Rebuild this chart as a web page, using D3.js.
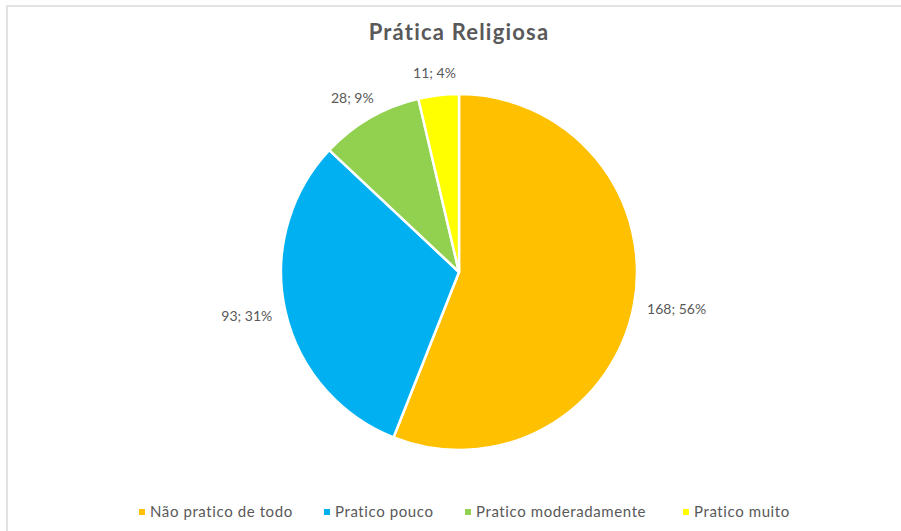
<!DOCTYPE html>
<html>
<head>
<meta charset="utf-8">
<script src="https://cdn.jsdelivr.net/npm/d3@7"></script>
<style>
  html, body { margin: 0; padding: 0; background: #fff; }
  svg { display: block; font-family: "Lato", "Open Sans", sans-serif; }
</style>
</head>
<body>
<div id="chart"></div>
<script>
// chart data
const categories = ['Não pratico de todo', 'Pratico pouco', 'Pratico moderadamente', 'Pratico muito'];
const counts = [168, 93, 28, 11];
const percentLabels = ['56%', '31%', '9%', '4%'];
const colors = ['#FFC000', '#00B0F0', '#92D050', '#FFFF00'];

const width = 901, height = 531;
const cx = 459, cy = 272, radius = 178;

const svg = d3.select('#chart').append('svg')
    .attr('width', width)
    .attr('height', height);

// chart frame (right and bottom edges fall outside the picture)
svg.append('rect')
    .attr('x', 7).attr('y', 6)
    .attr('width', width + 20).attr('height', height + 20)
    .attr('fill', '#fff')
    .attr('stroke', '#d9d9d9')
    .attr('stroke-width', 1.5);

svg.append('text')
    .attr('x', cx).attr('y', 40)
    .attr('text-anchor', 'middle')
    .attr('fill', '#595959')
    .style('font-size', '22px')
    .style('font-weight', 'bold')
    .style('letter-spacing', '1.2px')
    .text('Prática Religiosa');

const data = categories.map((c, i) => ({ name: c, value: counts[i], pct: percentLabels[i], color: colors[i] }));

const pie = d3.pie().sort(null).value(d => d.value);
const arc = d3.arc().innerRadius(0).outerRadius(radius);

const g = svg.append('g').attr('transform', `translate(${cx},${cy})`);
const arcs = pie(data);

g.selectAll('path')
    .data(arcs)
    .enter()
    .append('path')
    .attr('d', arc)
    .attr('fill', d => d.data.color)
    .attr('stroke', '#fff')
    .attr('stroke-width', 2.5)
    .attr('stroke-linejoin', 'round');

// outside-end labels: anchor point just beyond the rim, text box pushed outward
const labelGap = 14;
g.selectAll('text.label')
    .data(arcs)
    .enter()
    .append('text')
    .attr('class', 'label')
    .attr('text-anchor', 'middle')
    .attr('dy', '0.35em')
    .attr('fill', '#595959')
    .style('font-size', '14px')
    .text(d => `${d.data.value}; ${d.data.pct}`)
    .each(function (d) {
        const a = (d.startAngle + d.endAngle) / 2;
        const box = this.getBBox();
        const r = radius + labelGap;
        const x = Math.sin(a) * r + Math.sin(a) * box.width / 2;
        const y = -Math.cos(a) * r - Math.cos(a) * box.height / 2;
        d3.select(this).attr('transform', `translate(${x},${y})`);
    });

// legend
const legendX = [142, 327, 468, 686];
const legend = svg.append('g');
const items = legend.selectAll('g')
    .data(data)
    .enter()
    .append('g')
    .attr('transform', (d, i) => `translate(${legendX[i]},512)`);

items.append('rect')
    .attr('x', -3).attr('y', -3)
    .attr('width', 6).attr('height', 6)
    .attr('fill', d => d.color);

items.append('text')
    .attr('x', 8)
    .attr('dy', '0.35em')
    .attr('fill', '#595959')
    .style('font-size', '15px')
    .style('letter-spacing', '0.6px')
    .text(d => d.name);
</script>
</body>
</html>
